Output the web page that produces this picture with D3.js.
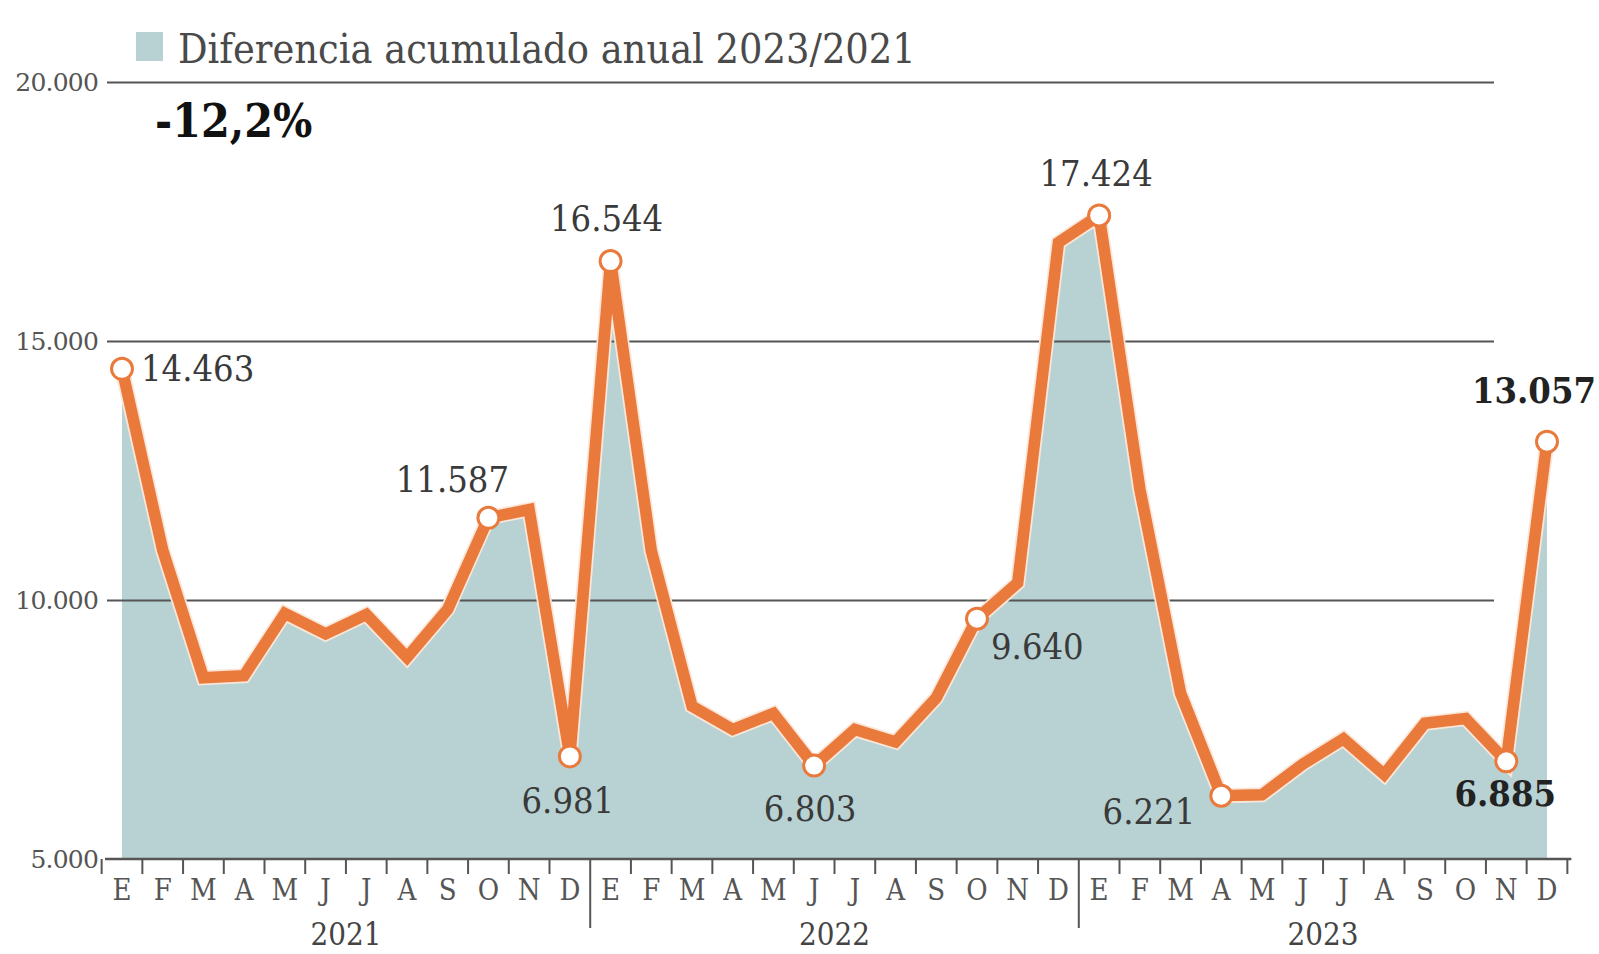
<!DOCTYPE html>
<html>
<head>
<meta charset="utf-8">
<script src="https://cdn.jsdelivr.net/npm/d3@7"></script>
<style>
  html, body { margin: 0; padding: 0; background: #fff; }
  svg { display: block; }
  .ytick text { font-family: "DejaVu Serif", serif; font-size: 25px; fill: #555; letter-spacing: -0.8px; }
  .month { font-family: "DejaVu Serif Condensed", "DejaVu Serif", serif; font-size: 29px; fill: #555; }
  .year { font-family: "DejaVu Serif Condensed", "DejaVu Serif", serif; font-size: 31px; fill: #444; }
  .val { font-family: "DejaVu Serif Condensed", "DejaVu Serif", serif; font-size: 36px; fill: #3a3a3a; }
  .val.bold { font-weight: bold; fill: #222; }
</style>
</head>
<body>
<div id="chart"></div>
<script>
// Datos: diferencia acumulado anual, ene 2021 – dic 2023
const years = ["2021", "2022", "2023"];
const months = ["E", "F", "M", "A", "M", "J", "J", "A", "S", "O", "N", "D"];
const values2021 = [14463, 10960, 8500, 8540, 9740, 9345, 9720, 8890, 9820, 11587, 11745, 6981];
const values2022 = [16544, 10950, 7950, 7500, 7810, 6803, 7500, 7260, 8110, 9640, 10330, 16900];
const values2023 = [17424, 12140, 8200, 6221, 6240, 6830, 7320, 6630, 7620, 7710, 6885, 13057];
const yTicks = [5000, 10000, 15000, 20000];
const legendText = "Diferencia acumulado anual 2023/2021";
const changeText = "-12,2%";
// puntos marcados (índice en la serie completa)
const marked = [0, 9, 11, 12, 17, 21, 24, 27, 34, 35];
const boldMarked = [34, 35];

const values = [...values2021, ...values2022, ...values2023];
const fmt = d3.formatLocale({ decimal: ",", thousands: ".", grouping: [3] }).format(",d");

const W = 1599, H = 954;
const svg = d3.select("#chart").append("svg").attr("width", W).attr("height", H);

const x = d3.scaleLinear().domain([0, values.length - 1]).range([122, 1547]);
const y = d3.scaleLinear().domain([5000, 20000]).range([859, 82]);
const step = x(1) - x(0);
const gridLeft = 107, gridRight = 1494;

// Leyenda
svg.append("rect")
  .attr("x", 136).attr("y", 32).attr("width", 27).attr("height", 29)
  .attr("fill", "#b8d2d3");
svg.append("text")
  .attr("x", 178).attr("y", 63)
  .attr("font-family", "DejaVu Serif Condensed, DejaVu Serif, serif").attr("font-size", 41)
  .attr("fill", "#4a4a4a")
  .text(legendText);

// Área
const area = d3.area()
  .x((d, i) => x(i))
  .y0(y(5000))
  .y1(d => y(d));
svg.append("path").datum(values)
  .attr("d", area)
  .attr("fill", "#b8d2d3");

// Rejilla y eje Y
const yAxis = svg.append("g")
  .attr("class", "ytick")
  .attr("transform", `translate(${gridLeft},0)`)
  .call(d3.axisLeft(y).tickValues(yTicks).tickFormat(fmt).tickSize(-(gridRight - gridLeft)).tickPadding(9));
yAxis.select(".domain").remove();
yAxis.selectAll("line").attr("stroke", "#555").attr("stroke-width", 2);
yAxis.selectAll(".tick").filter(d => d === 5000).select("line").remove();

svg.append("text")
  .attr("x", 155).attr("y", 137)
  .attr("font-family", "DejaVu Serif Condensed, DejaVu Serif, serif").attr("font-size", 46)
  .attr("font-weight", "bold").attr("fill", "#111")
  .text(changeText);

// Eje X
const xAxis = svg.append("g");
xAxis.append("line")
  .attr("x1", gridLeft - 2).attr("x2", x(values.length - 1) + step / 2 + 4)
  .attr("y1", y(5000)).attr("y2", y(5000))
  .attr("stroke", "#555").attr("stroke-width", 2.5);

d3.range(values.length + 1).forEach(i => {
  const bx = x(i) - step / 2;
  const isYear = i > 0 && i < values.length && i % 12 === 0;
  xAxis.append("line")
    .attr("x1", bx).attr("x2", bx)
    .attr("y1", y(5000)).attr("y2", isYear ? 928 : 874)
    .attr("stroke", "#555").attr("stroke-width", 2);
});

values.forEach((v, i) => {
  xAxis.append("text")
    .attr("class", "month")
    .attr("x", x(i)).attr("y", 900)
    .attr("text-anchor", "middle")
    .text(months[i % 12]);
});

years.forEach((yr, k) => {
  xAxis.append("text")
    .attr("class", "year")
    .attr("x", (x(k * 12) + x(k * 12 + 11)) / 2).attr("y", 945)
    .attr("text-anchor", "middle")
    .text(yr);
});

// Línea
const line = d3.line().x((d, i) => x(i)).y(d => y(d));
svg.append("path").datum(values)
  .attr("d", line)
  .attr("fill", "none").attr("stroke", "#fbe6da").attr("stroke-width", 15)
  .attr("stroke-linejoin", "miter");
svg.append("path").datum(values)
  .attr("d", line)
  .attr("fill", "none").attr("stroke", "#e97a3c").attr("stroke-width", 11.5)
  .attr("stroke-linejoin", "miter");

// Puntos marcados
svg.selectAll("circle.mark").data(marked).join("circle")
  .attr("class", "mark")
  .attr("cx", i => x(i)).attr("cy", i => y(values[i]))
  .attr("r", 10.5)
  .attr("fill", "#fff").attr("stroke", "#e97a3c").attr("stroke-width", 3);

// Etiquetas de valor
const place = {
  0: { dx: 19, dy: 12, anchor: "start" },
  9: { dx: -36, dy: -26, anchor: "middle" },
  11: { dx: -2, dy: 57, anchor: "middle" },
  12: { dx: -4, dy: -30, anchor: "middle" },
  17: { dx: -4, dy: 55, anchor: "middle" },
  21: { dx: 14, dy: 40, anchor: "start" },
  24: { dx: -3, dy: -29, anchor: "middle" },
  27: { dx: -26, dy: 28, anchor: "end" },
  34: { dx: -1, dy: 45, anchor: "middle" },
  35: { dx: -13, dy: -39, anchor: "middle" }
};
svg.selectAll("text.val").data(marked).join("text")
  .attr("class", i => boldMarked.includes(i) ? "val bold" : "val")
  .attr("x", i => x(i) + place[i].dx)
  .attr("y", i => y(values[i]) + place[i].dy)
  .attr("text-anchor", i => place[i].anchor)
  .text(i => fmt(values[i]));
</script>
</body>
</html>
